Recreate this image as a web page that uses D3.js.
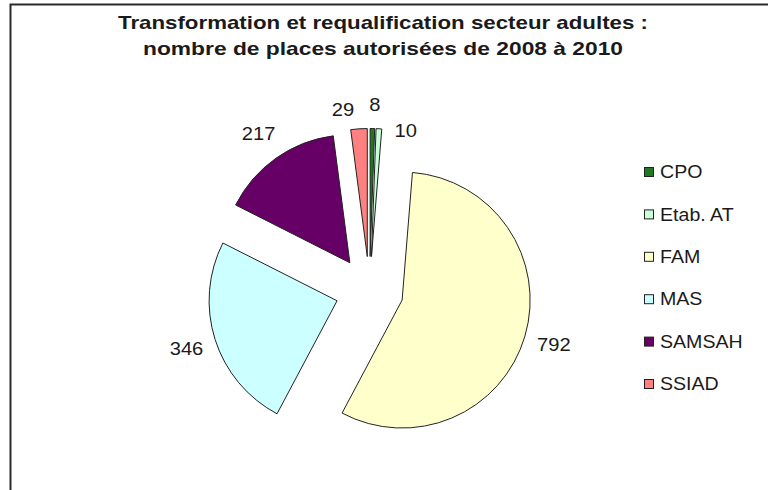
<!DOCTYPE html>
<html>
<head>
<meta charset="utf-8">
<script src="https://cdn.jsdelivr.net/npm/d3@7"></script>
<style>
  html, body { margin: 0; padding: 0; background: #fff; }
  svg { display: block; font-family: "Liberation Sans", Arial, sans-serif; }
</style>
</head>
<body>
<div id="chart"></div>
<script>
// data
var categories = ["CPO", "Etab. AT", "FAM", "MAS", "SAMSAH", "SSIAD"];
var values = [8, 10, 792, 346, 217, 29];
var colors = ["#1e7a1e", "#c8ffd8", "#ffffcc", "#ccffff", "#660066", "#ff8080"];
var titleLines = [
    "Transformation et requalification secteur adultes :",
    "nombre de places autorisées de 2008 à 2010"
];

var width = 768, height = 490;
var cx = 369.5, cy = 290.5;   // pie centre
var radius = 128, explode = 34;
var stretch = 1.12;           // the original text is drawn a bit wide

var svg = d3.select("#chart").append("svg")
    .attr("width", width)
    .attr("height", height);

// chart area border (only top and left show in the frame)
svg.append("rect")
    .attr("x", 10.5).attr("y", 4.5)
    .attr("width", 800).attr("height", 520)
    .attr("fill", "#fff")
    .attr("stroke", "#2a2a2a")
    .attr("stroke-width", 2);

// title
svg.append("g")
    .selectAll("text")
    .data(titleLines)
    .enter().append("text")
    .attr("x", 383)
    .attr("y", (d, i) => 29 + i * 26)
    .attr("text-anchor", "middle")
    .attr("font-size", 19)
    .attr("font-weight", "bold")
    .attr("fill", "#1a1a1a")
    .attr("textLength", (d, i) => i == 0 ? 530 : 480)
    .attr("lengthAdjust", "spacingAndGlyphs")
    .text(d => d);

var data = categories.map((c, i) => ({ name: c, value: values[i], color: colors[i] }));

var pie = d3.pie().sort(null).value(d => d.value);
var arcs = pie(data);
var arc = d3.arc().innerRadius(0).outerRadius(radius);

function mid(d) { return (d.startAngle + d.endAngle) / 2; }

var g = svg.append("g").attr("transform", "translate(" + cx + "," + cy + ")");

// exploded slices
g.selectAll("path")
    .data(arcs)
    .enter().append("path")
    .attr("d", arc)
    .attr("transform", d => "translate(" + Math.sin(mid(d)) * explode + "," + (-Math.cos(mid(d)) * explode) + ")")
    .attr("fill", d => d.data.color)
    .attr("stroke", "#222")
    .attr("stroke-width", 1);

// value labels, small slices nudged like Excel does
var labelDist = 192;
var nudge = { "SSIAD": [-14, 11], "CPO": [2, 6], "Etab. AT": [25, 32] };

g.selectAll("text.lbl")
    .data(arcs)
    .enter().append("text")
    .attr("class", "lbl")
    .attr("transform", d => {
        var n = nudge[d.data.name] || [0, 0];
        var x = Math.sin(mid(d)) * labelDist + n[0];
        var y = -Math.cos(mid(d)) * labelDist + n[1];
        return "translate(" + x + "," + y + ") scale(" + stretch + ",1)";
    })
    .attr("text-anchor", "middle")
    .attr("dominant-baseline", "central")
    .attr("font-size", 18)
    .attr("fill", "#1a1a1a")
    .text(d => d.data.value);

// legend
var legend = svg.append("g").attr("transform", "translate(644,172)");
var row = legend.selectAll("g")
    .data(data)
    .enter().append("g")
    .attr("transform", (d, i) => "translate(0," + i * 42.4 + ")");

row.append("rect")
    .attr("x", 0.5).attr("y", -4.5)
    .attr("width", 9).attr("height", 9)
    .attr("fill", d => d.color)
    .attr("stroke", "#222");

row.append("text")
    .attr("transform", "translate(16,0) scale(" + stretch + ",1)")
    .attr("dominant-baseline", "central")
    .attr("font-size", 17.5)
    .attr("fill", "#1a1a1a")
    .text(d => d.name);
</script>
</body>
</html>
